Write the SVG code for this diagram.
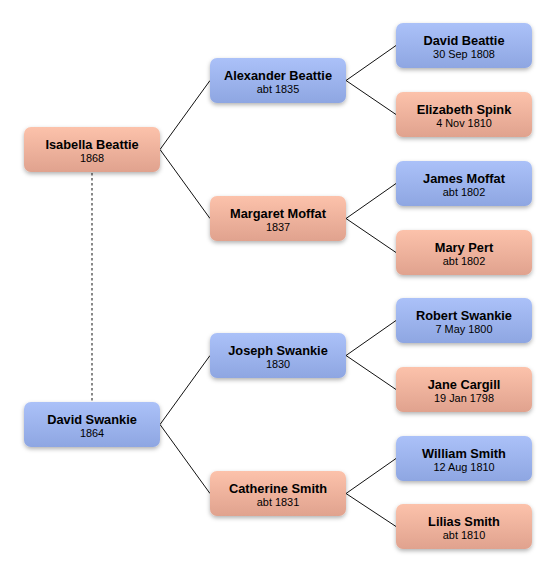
<svg xmlns="http://www.w3.org/2000/svg" width="556" height="574" viewBox="0 0 556 574">
<defs>
<linearGradient id="gb" x1="0" y1="0" x2="0" y2="1"><stop offset="0" stop-color="#abc1f8"/><stop offset="1" stop-color="#8ea6e2"/></linearGradient>
<linearGradient id="gp" x1="0" y1="0" x2="0" y2="1"><stop offset="0" stop-color="#fcc2ab"/><stop offset="1" stop-color="#e0a28e"/></linearGradient>
<filter id="sh" x="-10%" y="-20%" width="120%" height="150%"><feDropShadow dx="0" dy="2" stdDeviation="2" flood-color="#000" flood-opacity="0.3"/></filter>
</defs>
<style>
.m rect{fill:url(#gb);filter:url(#sh)}
.f rect{fill:url(#gp);filter:url(#sh)}
text{font-family:"Liberation Sans",Arial,sans-serif;text-anchor:middle;fill:#000}
.n{font-weight:bold;font-size:12.8px}
.d{font-size:10.9px}
.c line,.c path{stroke:#111;stroke-width:1;fill:none}
.dash{stroke:#666;stroke-width:1.5;stroke-dasharray:2.5,2.5}
</style>
<rect width="556" height="574" fill="#fff"/>
<g id="connectors" class="c">
<line class="dash" x1="92" y1="173" x2="92" y2="402"/>
<path d="M210,80.5 L160,149.5 L210,218.5"/>
<path d="M210,355.5 L160,424.5 L210,493.5"/>
<path d="M396,45.5 L346,80.5 L396,114.5"/>
<path d="M396,183.5 L346,218.5 L396,252.5"/>
<path d="M396,320.5 L346,355.5 L396,389.5"/>
<path d="M396,458.5 L346,493.5 L396,526.5"/>
</g>
<g id="isabella" class="f"><rect x="24" y="127" width="136" height="45" rx="7"/><text class="n" x="92" y="148.5">Isabella Beattie</text><text class="d" x="92" y="162">1868</text></g>
<g id="davidswankie" class="m"><rect x="24" y="402" width="136" height="45" rx="7"/><text class="n" x="92" y="423.5">David Swankie</text><text class="d" x="92" y="437">1864</text></g>
<g id="alexander" class="m"><rect x="210" y="58" width="136" height="45" rx="7"/><text class="n" x="278" y="79.5">Alexander Beattie</text><text class="d" x="278" y="93">abt 1835</text></g>
<g id="margaret" class="f"><rect x="210" y="196" width="136" height="45" rx="7"/><text class="n" x="278" y="217.5">Margaret Moffat</text><text class="d" x="278" y="231">1837</text></g>
<g id="joseph" class="m"><rect x="210" y="333" width="136" height="45" rx="7"/><text class="n" x="278" y="354.5">Joseph Swankie</text><text class="d" x="278" y="368">1830</text></g>
<g id="catherine" class="f"><rect x="210" y="471" width="136" height="45" rx="7"/><text class="n" x="278" y="492.5">Catherine Smith</text><text class="d" x="278" y="506">abt 1831</text></g>
<g id="davidbeattie" class="m"><rect x="396" y="23" width="136" height="45" rx="7"/><text class="n" x="464" y="44.5">David Beattie</text><text class="d" x="464" y="58">30 Sep 1808</text></g>
<g id="elizabeth" class="f"><rect x="396" y="92" width="136" height="45" rx="7"/><text class="n" x="464" y="113.5">Elizabeth Spink</text><text class="d" x="464" y="127">4 Nov 1810</text></g>
<g id="james" class="m"><rect x="396" y="161" width="136" height="45" rx="7"/><text class="n" x="464" y="182.5">James Moffat</text><text class="d" x="464" y="196">abt 1802</text></g>
<g id="mary" class="f"><rect x="396" y="230" width="136" height="45" rx="7"/><text class="n" x="464" y="251.5">Mary Pert</text><text class="d" x="464" y="265">abt 1802</text></g>
<g id="robert" class="m"><rect x="396" y="298" width="136" height="45" rx="7"/><text class="n" x="464" y="319.5">Robert Swankie</text><text class="d" x="464" y="333">7 May 1800</text></g>
<g id="jane" class="f"><rect x="396" y="367" width="136" height="45" rx="7"/><text class="n" x="464" y="388.5">Jane Cargill</text><text class="d" x="464" y="402">19 Jan 1798</text></g>
<g id="william" class="m"><rect x="396" y="436" width="136" height="45" rx="7"/><text class="n" x="464" y="457.5">William Smith</text><text class="d" x="464" y="471">12 Aug 1810</text></g>
<g id="lilias" class="f"><rect x="396" y="504" width="136" height="45" rx="7"/><text class="n" x="464" y="525.5">Lilias Smith</text><text class="d" x="464" y="539">abt 1810</text></g>
</svg>
